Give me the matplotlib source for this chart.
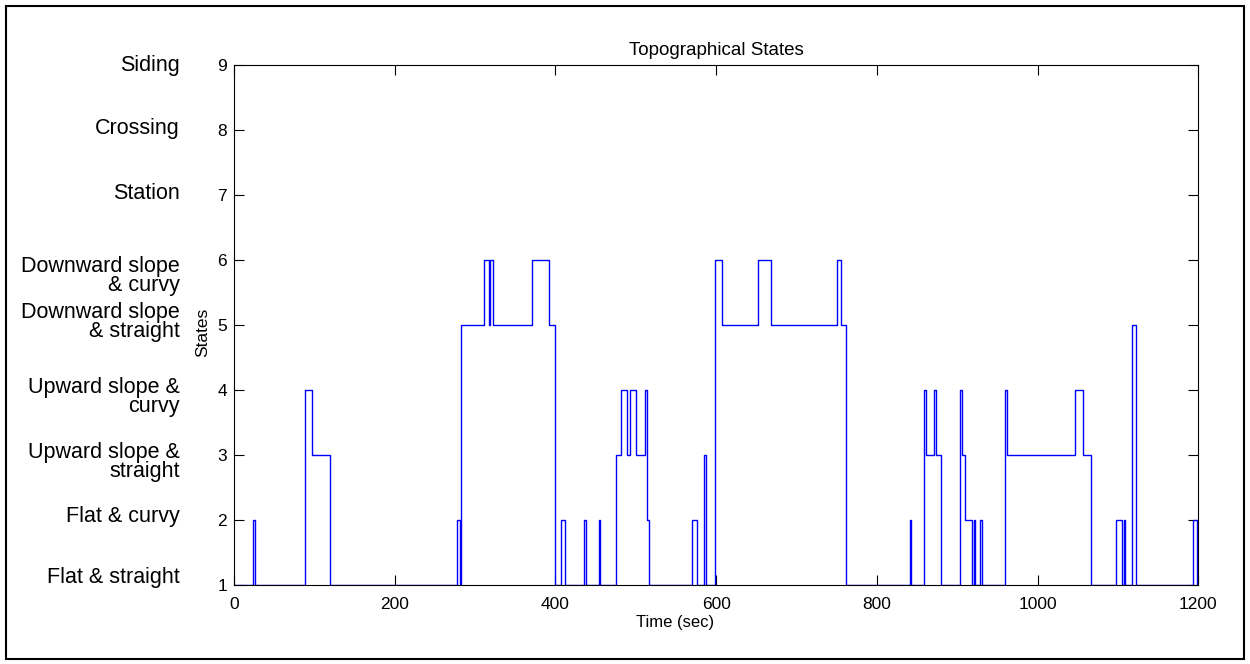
import matplotlib
matplotlib.use("Agg")
import matplotlib.pyplot as plt
from matplotlib.patches import Rectangle

plt.rcParams['font.family'] = ['Liberation Sans', 'DejaVu Sans']

# change points: state holds from each time until the next
times = [0, 24, 26, 88, 97, 120, 277, 281, 283, 311, 317, 319, 322, 371, 392, 400,
         407, 412, 436, 438, 454, 456, 476, 481, 489, 493, 500, 511, 514, 517,
         570, 576, 585, 587, 599, 607, 652, 668, 751, 755, 762,
         841, 843, 859, 861, 871, 874, 880, 903, 906, 910, 919, 921, 922, 928, 931,
         960, 962, 1047, 1057, 1067, 1098, 1105, 1108, 1109, 1118, 1123, 1193, 1199, 1200]
states = [1, 2, 1, 4, 3, 1, 2, 1, 5, 6, 5, 6, 5, 6, 5, 1,
          2, 1, 2, 1, 2, 1, 3, 4, 3, 4, 3, 4, 2, 1,
          2, 1, 3, 1, 6, 5, 6, 5, 6, 5, 1,
          2, 1, 4, 3, 4, 3, 1, 4, 3, 2, 1, 2, 1, 2, 1,
          4, 3, 4, 3, 1, 2, 1, 2, 1, 5, 1, 2, 1, 1]

state_names = ["Flat & straight", "Flat & curvy", "Upward slope &\nstraight",
               "Upward slope &\ncurvy", "Downward slope\n& straight",
               "Downward slope\n& curvy", "Station", "Crossing", "Siding"]
xticks = [0, 200, 400, 600, 800, 1000, 1200]
yticks = [1, 2, 3, 4, 5, 6, 7, 8, 9]

# vertical placement of each category label (layout, in data units)
label_pos = [1.11, 2.05, 2.89, 3.89, 5.05, 5.75, 7.02, 8.02, 8.99]

fig = plt.figure(figsize=(12.5, 6.64), dpi=100)
ax = fig.add_axes([0.1872, 0.119, 0.9586 - 0.1872, 0.9021 - 0.119])
ax.plot(times, states, drawstyle='steps-post', color='#0000FF', lw=1.0)
ax.set_xlim(0, 1200)
ax.set_ylim(1, 9)
ax.set_xticks(xticks)
ax.set_yticks(yticks)
ax.tick_params(direction='in', length=7, width=0.8, top=True, right=True,
               labelsize=12.5)
ax.tick_params(axis='y', pad=5)
ax.tick_params(axis='x', pad=9)
for s in ax.spines.values():
    s.set_linewidth(0.8)
ax.set_title("Topographical States", fontsize=13.5, pad=7)
ax.set_xlabel("Time (sec)", fontsize=12)
ax.xaxis.set_label_coords(0.457, -0.058)
ax.set_ylabel("States", fontsize=12.5)
ax.yaxis.set_label_coords(-0.025, 0.485)

for y, name in zip(label_pos, state_names):
    ax.text(-0.056, y, name, transform=ax.get_yaxis_transform(),
            ha='right', va='center', fontsize=15.5, linespacing=0.9)

fig.patches.append(Rectangle((0.005, 0.008), 0.99, 0.983, transform=fig.transFigure,
                             fill=False, edgecolor='black', lw=1.5))

fig.savefig("out.png", dpi=100)
